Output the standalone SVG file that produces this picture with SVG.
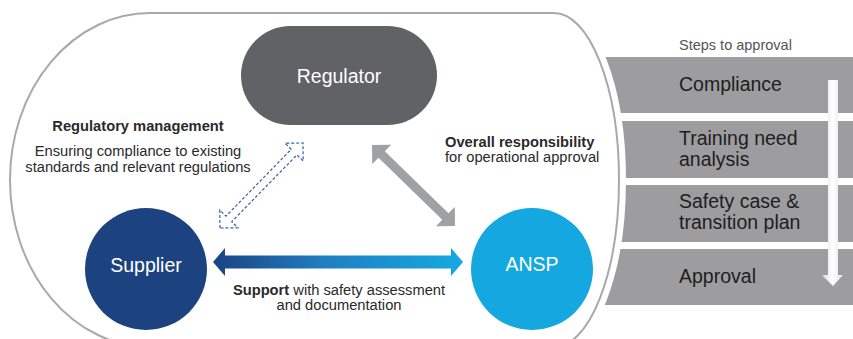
<svg xmlns="http://www.w3.org/2000/svg" width="853" height="339" viewBox="0 0 853 339">
<style>
  text { font-family: "Liberation Sans", Arial, sans-serif; }
  .lbl { font-size: 14.7px; fill: #2a2a2a; }
  .b { font-weight: bold; }
  .node-t { font-size: 19.5px; fill: #ffffff; text-anchor: middle; }
  .step { font-size: 19.5px; fill: #1e1e1e; }
  .band { fill: #9d9d9f; }
</style>
<defs>
  <linearGradient id="hgrad" x1="213" y1="0" x2="463" y2="0" gradientUnits="userSpaceOnUse">
    <stop offset="0" stop-color="#1b4382"/>
    <stop offset="0.45" stop-color="#1f7fc2"/>
    <stop offset="1" stop-color="#16a9e1"/>
  </linearGradient>
  <linearGradient id="wgrad" x1="0" y1="0" x2="1" y2="0">
    <stop offset="0" stop-color="#dcdcdc"/>
    <stop offset="0.5" stop-color="#ffffff"/>
    <stop offset="1" stop-color="#e4e4e4"/>
  </linearGradient>
</defs>

<rect width="853" height="339" fill="#ffffff"/>

<g id="steps-panel">
  <rect class="band" x="560" y="57" width="293" height="56"/>
  <rect class="band" x="560" y="121" width="293" height="57"/>
  <rect class="band" x="560" y="185" width="293" height="57"/>
  <rect class="band" x="560" y="249" width="293" height="56"/>
  <path d="M828,80 H838 V275 H843 L833,286 L822,275 H828 Z" fill="url(#wgrad)"/>
</g>

<g id="frame">
  <path d="M150,13 H554 A65,167 0 0 1 554,347 H150 A140,167 0 0 1 150,13 Z" fill="none" stroke="#ffffff" stroke-width="14"/>
  <path d="M150,13 H554 A65,167 0 0 1 554,347 H150 A140,167 0 0 1 150,13 Z" fill="#ffffff" stroke="#a9a9ab" stroke-width="2"/>
</g>

<g id="steps-text">
  <text x="679" y="50" style="font-size:14.5px;fill:#555555">Steps to approval</text>
  <text class="step" x="679" y="91">Compliance</text>
  <text class="step" x="679" y="145">Training need</text>
  <text class="step" x="679" y="166">analysis</text>
  <text class="step" x="679" y="208">Safety case &amp;</text>
  <text class="step" x="679" y="229">transition plan</text>
  <text class="step" x="679" y="283">Approval</text>
</g>

<g id="connectors">
  <polygon points="213,262 225,248 225,255.5 451,255.5 451,248 463,262 451,276 451,268.5 225,268.5 225,276" fill="url(#hgrad)"/>
  <polygon transform="translate(372,145) rotate(44.3)" points="0,0 13.5,-13.5 13.5,-4.5 102.5,-4.5 102.5,-13.5 116,0 102.5,13.5 102.5,4.5 13.5,4.5 13.5,13.5" fill="#a0a1a3"/>
  <polygon transform="translate(220,228) rotate(-45.7)" points="0,0 12.7,-12.7 12.7,-4 106.1,-4 106.1,-12.7 118.8,0 106.1,12.7 106.1,4 12.7,4 12.7,12.7" fill="#ffffff" stroke="#3a5fa8" stroke-width="1.2" stroke-dasharray="3 2"/>
</g>

<g id="node-regulator">
  <rect x="241" y="26" width="196" height="99" rx="49.5" ry="49.5" fill="#606266"/>
  <text class="node-t" x="339" y="83">Regulator</text>
</g>

<g id="node-supplier">
  <circle cx="146" cy="269" r="61" fill="#1c437f"/>
  <text class="node-t" x="146" y="272">Supplier</text>
</g>

<g id="node-ansp">
  <circle cx="532" cy="269" r="61" fill="#15a7df"/>
  <text class="node-t" x="532" y="271">ANSP</text>
</g>

<g id="labels">
  <text class="lbl b" x="138" y="131" text-anchor="middle">Regulatory management</text>
  <text class="lbl" x="138" y="156" text-anchor="middle">Ensuring compliance to existing</text>
  <text class="lbl" x="138" y="172" text-anchor="middle">standards and relevant regulations</text>
  <text class="lbl b" x="445" y="147">Overall responsibility</text>
  <text class="lbl" x="445" y="162">for operational approval</text>
  <text class="lbl" x="339" y="295" text-anchor="middle"><tspan class="b">Support</tspan> with safety assessment</text>
  <text class="lbl" x="339" y="310" text-anchor="middle">and documentation</text>
</g>
</svg>
